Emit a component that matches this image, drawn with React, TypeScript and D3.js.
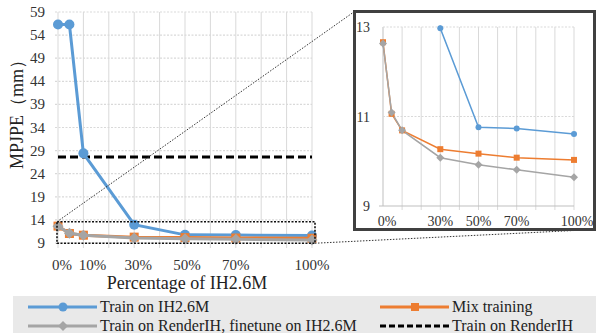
import React from 'react';
import * as d3 from 'd3';

// percentages of IH2.6M used
const pct = [0, 4.5, 10, 30, 50, 70, 100];
const trainIH = [56.3, 56.3, 28.4, 12.97, 10.76, 10.73, 10.61];
const mixTraining = [12.66, 11.06, 10.69, 10.27, 10.17, 10.08, 10.03];
const renderFinetune = [12.63, 11.09, 10.69, 10.08, 9.92, 9.81, 9.64];
const renderOnly = 27.6;

const mainYTicks = [9, 14, 19, 24, 29, 34, 39, 44, 49, 54, 59];
const mainXTicks = [0, 10, 30, 50, 70, 100];
const mainXNudge = [4, 9, 4, 2, 0, 0];
const gridX = [0, 10, 20, 30, 40, 50, 60, 70, 80, 90, 100];
const insetYTicks = [9, 11, 13];
const insetXTicks = [0, 30, 50, 70, 100];

const FONT = '"Liberation Serif", "Times New Roman", serif';
const BLUE = '#5b9bd5';
const ORANGE = '#ed7d31';
const GRAY = '#a5a5a5';
const GRID = '#d9d9d9';

type Series = { name: string; values: number[]; color: string; shape: string };
const series: Series[] = [
  { name: 'Train on IH2.6M', values: trainIH, color: BLUE, shape: 'circle' },
  { name: 'Mix training', values: mixTraining, color: ORANGE, shape: 'square' },
  { name: 'Train on RenderIH, finetune on IH2.6M', values: renderFinetune, color: GRAY, shape: 'diamond' },
];

function marker(shape: string, x: number, y: number, s: number, color: string, key?: any) {
  if (shape === 'circle') return <circle key={key} cx={x} cy={y} r={s / 2} fill={color} />;
  if (shape === 'square') return <rect key={key} x={x - s / 2} y={y - s / 2} width={s} height={s} fill={color} />;
  const h = s / 2 + 1;
  return <path key={key} d={`M${x},${y - h}L${x + h},${y}L${x},${y + h}L${x - h},${y}Z`} fill={color} />;
}

export default function App() {
  // main chart
  const x = d3.scaleLinear().domain([0, 100]).range([58, 312]);
  const y = d3.scaleLinear().domain([9, 59]).range([243, 12]);
  // inset chart
  const ix = d3.scaleLinear().domain([0, 100]).range([383, 574]);
  const iy = d3.scaleLinear().domain([9, 13]).range([206, 27]);

  const mainLine = d3.line<number>().x((d, i) => x(pct[i])).y(d => y(d));
  const insetLine = d3.line<number>().x((d, i) => ix(pct[i])).y(d => iy(d));

  // zoom rectangle in main chart
  const zr = { x0: x(0) - 1, x1: x(100) + 3, y0: y(13.6), y1: y(8.95) };
  const box = { x0: 354.5, y0: 11.5, x1: 594.5, y1: 229.5 };

  return (
    <svg width={596} height={333} style={{ position: 'absolute', left: 0, top: 0, background: '#fff' }} fontFamily={FONT}>
      <defs>
        <clipPath id="insetClip">
          <rect x={ix(0) - 6} y={iy(13) - 1.5} width={ix(100) - ix(0) + 12} height={iy(9) - iy(13) + 7} />
        </clipPath>
      </defs>

      {/* main grid */}
      {gridX.map(v => (
        <line key={'gx' + v} x1={x(v)} x2={x(v)} y1={y(59)} y2={y(9) + 5} stroke={GRID} strokeWidth={1} />
      ))}
      {mainYTicks.map(v => (
        <line key={'gy' + v} x1={x(0) - 3} x2={x(100)} y1={y(v)} y2={y(v)} stroke={GRID} strokeWidth={1.2} strokeDasharray="2,1.5" />
      ))}
      {mainYTicks.map(v => (
        <text key={'ty' + v} x={45} y={y(v) + 5} textAnchor="end" fontSize={15} fill="#333">{v}</text>
      ))}
      {mainXTicks.map((v, i) => (
        <text key={'tx' + v} x={x(v) + mainXNudge[i]} y={270} textAnchor="middle" fontSize={15} fill="#333">{v}%</text>
      ))}
      <text x={187} y={289} textAnchor="middle" fontSize={18} fill="#222">Percentage of IH2.6M</text>
      <text transform="translate(23,110) rotate(-90)" textAnchor="middle" fontSize={18} fill="#222">MPJPE（mm）</text>

      {/* baseline trained on RenderIH */}
      <line x1={x(0)} x2={x(100)} y1={y(renderOnly)} y2={y(renderOnly)} stroke="#000" strokeWidth={3} strokeDasharray="8,4" />

      {/* main series */}
      {series.map(s => (
        <g key={s.name}>
          <path d={mainLine(s.values) || ''} fill="none" stroke={s.color} strokeWidth={3} />
          {s.values.map((v, i) => marker(s.shape, x(pct[i]), y(v), s.shape === 'circle' ? 10 : 9, s.color, i))}
        </g>
      ))}

      {/* zoom rectangle and connectors */}
      <rect x={zr.x0} y={zr.y0} width={zr.x1 - zr.x0} height={zr.y1 - zr.y0} fill="none" stroke="#111" strokeWidth={1.6} strokeDasharray="2,1.5" />
      <line x1={zr.x0} y1={zr.y0} x2={box.x0} y2={box.y0} stroke="#333" strokeWidth={1} strokeDasharray="1.5,1.5" />
      <line x1={zr.x1} y1={zr.y1} x2={box.x1} y2={box.y1} stroke="#333" strokeWidth={1} strokeDasharray="1.5,1.5" />

      {/* inset */}
      <rect x={box.x0} y={box.y0} width={box.x1 - box.x0} height={box.y1 - box.y0} fill="#fff" stroke="#404040" strokeWidth={3} />
      {gridX.map(v => (
        <line key={'igx' + v} x1={ix(v)} x2={ix(v)} y1={iy(13)} y2={iy(9) + (v === 0 ? 0 : 4)} stroke={v === 0 ? '#bfbfbf' : GRID} strokeWidth={1} />
      ))}
      {insetYTicks.filter(v => v !== 9).map(v => (
        <line key={'igy' + v} x1={ix(0)} x2={ix(100)} y1={iy(v)} y2={iy(v)} stroke={GRID} strokeWidth={1.2} strokeDasharray="2,1.5" />
      ))}
      <line x1={ix(0) - 4} x2={ix(100)} y1={iy(9)} y2={iy(9)} stroke="#bfbfbf" strokeWidth={1} />
      {insetYTicks.map(v => (
        <text key={'ity' + v} x={370} y={iy(v) + 5} textAnchor="end" fontSize={14} fill="#333">{v}</text>
      ))}
      {insetXTicks.map(v => (
        <text key={'itx' + v} x={ix(v) + (v === 0 ? 4 : v === 100 ? 3 : 0)} y={226} textAnchor="middle" fontSize={14} fill="#333">{v}%</text>
      ))}
      <g clipPath="url(#insetClip)">
        {series.map(s => (
          <path key={'il' + s.name} d={insetLine(s.values) || ''} fill="none" stroke={s.color} strokeWidth={1.5} />
        ))}
      </g>
      {series.map(s => (
        <g key={'im' + s.name}>
          {s.values.map((v, i) => (v <= 13.05 ? marker(s.shape, ix(pct[i]), iy(v), 6, s.color, i) : null))}
        </g>
      ))}

      {/* legend */}
      <rect x={13} y={296} width={583} height={37} fill="#e9e9e9" />
      {[
        { s: series[0], lx: 28, ly: 307 },
        { s: series[1], lx: 380, ly: 307 },
        { s: series[2], lx: 28, ly: 326 },
      ].map(({ s, lx, ly }) => (
        <g key={'lg' + s.name}>
          <line x1={lx} x2={lx + 69} y1={ly} y2={ly} stroke={s.color} strokeWidth={3} />
          {marker(s.shape, lx + 35, ly, s.shape === 'circle' ? 9 : 8, s.color)}
          <text x={lx + 72} y={ly + 5} fontSize={16} fill="#222">{s.name}</text>
        </g>
      ))}
      <line x1={380} x2={449} y1={326} y2={326} stroke="#000" strokeWidth={3} strokeDasharray="6,3" />
      <text x={452} y={331} fontSize={16} fill="#222">Train on RenderIH</text>
    </svg>
  );
}
